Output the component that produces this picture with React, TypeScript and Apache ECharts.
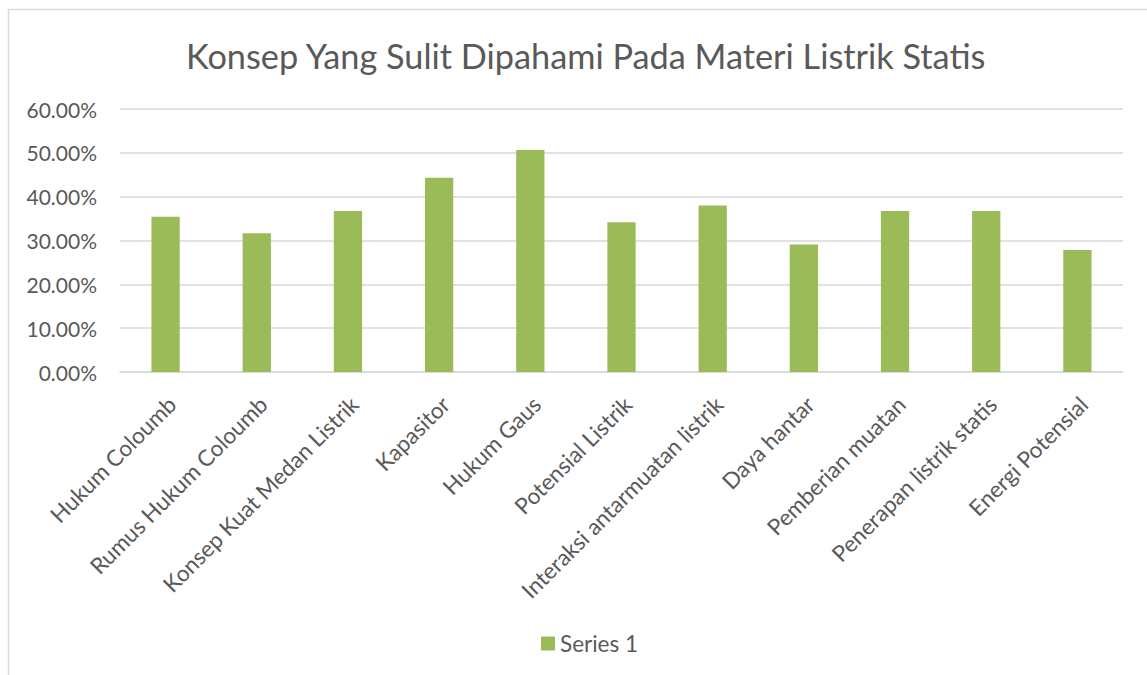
import React, { useEffect, useRef } from "react";
import * as echarts from "echarts";

const titleText = "Konsep Yang Sulit Dipahami Pada Materi Listrik Statis";
const categories = [
  "Hukum Coloumb",
  "Rumus Hukum Coloumb",
  "Konsep Kuat Medan Listrik",
  "Kapasitor",
  "Hukum Gaus",
  "Potensial Listrik",
  "Interaksi antarmuatan listrik",
  "Daya hantar",
  "Pemberian muatan",
  "Penerapan listrik statis",
  "Energi Potensial",
];
const seriesName = "Series 1";
const values = [35.44, 31.65, 36.71, 44.3, 50.63, 34.18, 37.97, 29.11, 36.71, 36.71, 27.85];
const yMin = 0;
const yMax = 60;
const yInterval = 10;

const FONT = "Lato, 'Noto Sans', sans-serif";

export default function App() {
  const ref = useRef<HTMLDivElement>(null);
  useEffect(() => {
    if (!ref.current) return;
    const chart = echarts.init(ref.current, undefined, { renderer: "svg" });
    chart.setOption({
      animation: false,
      backgroundColor: "#ffffff",
      textStyle: { fontFamily: FONT },
      graphic: [
        {
          type: "rect",
          shape: { x: 8.5, y: 9.5, width: 1300, height: 800 },
          style: { fill: "none", stroke: "#d9d9d9", lineWidth: 1.5 },
          silent: true,
        },
      ],
      title: {
        text: titleText,
        left: 181,
        top: 33,
        textStyle: { fontFamily: FONT, fontSize: 34.3, fontWeight: "normal", color: "#595959" },
      },
      legend: {
        data: [seriesName],
        top: 627,
        left: 536,
        itemWidth: 14,
        itemHeight: 14,
        icon: "rect",
        itemGap: 6,
        textStyle: { fontFamily: FONT, fontSize: 22.5, color: "#595959" },
      },
      grid: { left: 120, right: 24, top: 109, bottom: 303, containLabel: false },
      xAxis: {
        type: "category",
        data: categories,
        axisLine: { lineStyle: { color: "#d9d9d9", width: 1.5 } },
        axisTick: { show: false },
        axisLabel: {
          rotate: 45,
          interval: 0,
          margin: 22,
          fontFamily: FONT,
          fontSize: 22.5,
          lineHeight: 18,
          verticalAlign: "top",
          color: "#595959",
        },
      },
      yAxis: {
        type: "value",
        min: yMin,
        max: yMax,
        interval: yInterval,
        axisLine: { show: false },
        axisTick: { show: false },
        splitLine: { lineStyle: { color: "#d9d9d9", width: 1.5 } },
        axisLabel: {
          margin: 23,
          fontFamily: FONT,
          fontSize: 21,
          color: "#595959",
          formatter: (v: number) => v.toFixed(2) + "%",
        },
      },
      series: [
        {
          name: seriesName,
          type: "bar",
          data: values,
          barWidth: "31%",
          itemStyle: { color: "#9bbb59" },
        },
      ],
    });
    return () => chart.dispose();
  }, []);
  return (
    <div
      ref={ref}
      style={{ position: "fixed", left: 0, top: 0, width: 1147, height: 675 }}
    />
  );
}
